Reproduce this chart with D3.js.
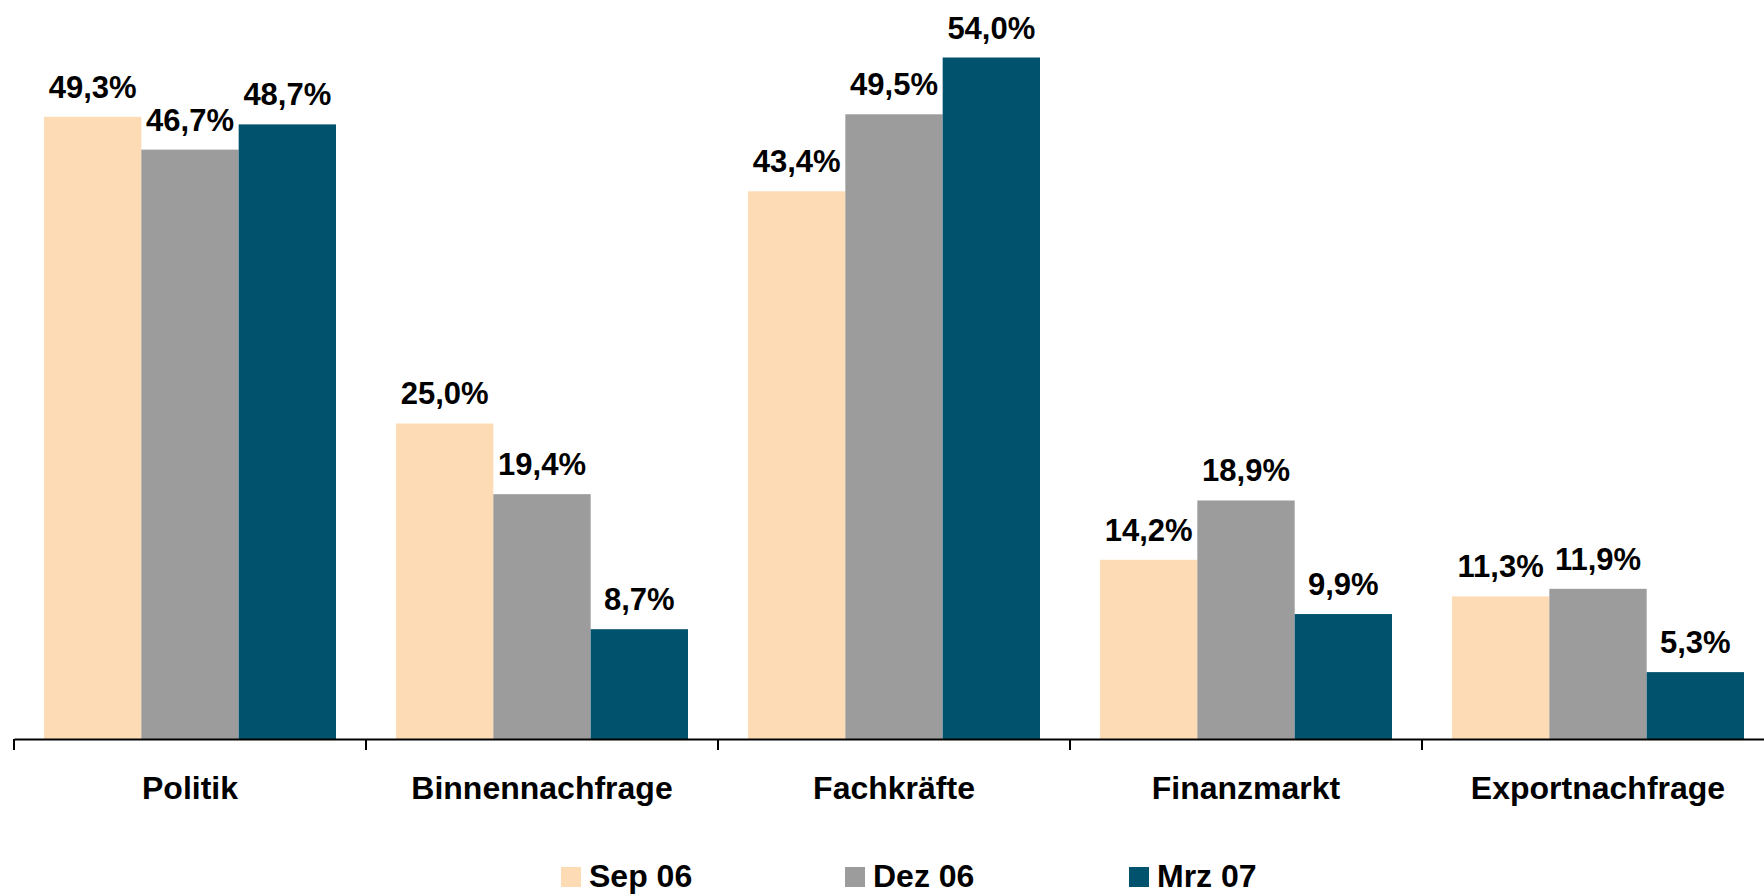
<!DOCTYPE html>
<html>
<head>
<meta charset="utf-8">
<script src="https://cdn.jsdelivr.net/npm/d3@7"></script>
<style>
  body { margin: 0; background: #fff; }
  text { font-family: "Liberation Sans", Arial, sans-serif; font-weight: bold; fill: #000; }
</style>
</head>
<body>
<svg id="chart"></svg>
<script>
const categories = ["Politik", "Binnennachfrage", "Fachkräfte", "Finanzmarkt", "Exportnachfrage"];
const seriesNames = ["Sep 06", "Dez 06", "Mrz 07"];
const sep06 = [49.3, 25.0, 43.4, 14.2, 11.3];
const dez06 = [46.7, 19.4, 49.5, 18.9, 11.9];
const mrz07 = [48.7, 8.7, 54.0, 9.9, 5.3];
const colors = ["#FDDBB4", "#9C9C9C", "#01526D"];

const width = 1764, height = 894;
const baseY = 739;

const svg = d3.select("#chart")
  .attr("width", width)
  .attr("height", height);

const seriesValues = [sep06, dez06, mrz07];

// group scale (band boundaries carry the ticks)
const x0 = d3.scaleBand()
  .domain(categories)
  .range([14, 14 + 5 * 352])
  .padding(0);

const x1 = d3.scaleBand()
  .domain(seriesNames)
  .range([30, 322])
  .padding(0);

const y = d3.scaleLinear()
  .domain([0, 54])
  .range([baseY, 57.5]);

const fmt = v => v.toFixed(1).replace(".", ",") + "%";

const groups = svg.selectAll("g.group")
  .data(categories)
  .enter().append("g")
  .attr("class", "group")
  .attr("transform", d => "translate(" + x0(d) + ",0)");

groups.each(function(cat, i) {
  const g = d3.select(this);
  const data = seriesNames.map((s, k) => ({ s: s, v: seriesValues[k][i], k: k }));

  g.selectAll("rect").data(data)
    .enter().append("rect")
    .attr("x", d => x1(d.s))
    .attr("y", d => y(d.v))
    .attr("width", x1.bandwidth())
    .attr("height", d => baseY - y(d.v))
    .attr("fill", d => colors[d.k]);

  g.selectAll("text.val").data(data)
    .enter().append("text")
    .attr("class", "val")
    .attr("x", d => x1(d.s) + x1.bandwidth() / 2)
    .attr("y", d => y(d.v) - 19)
    .attr("text-anchor", "middle")
    .style("font-size", "31px")
    .text(d => fmt(d.v));
});

// x axis
const axis = svg.append("g")
  .attr("transform", "translate(0," + baseY + ")")
  .call(d3.axisBottom(x0).tickSizeInner(0).tickSizeOuter(0));

axis.select(".domain").attr("stroke", "#000").attr("stroke-width", 2);
axis.selectAll(".tick text")
  .attr("y", 60)
  .attr("dy", null)
  .style("font-size", "32px")
  .style("font-family", "'Liberation Sans', Arial, sans-serif")
  .style("font-weight", "bold")
  .attr("fill", "#000");

// ticks at group boundaries
axis.selectAll("line.sep")
  .data(categories)
  .enter().append("line")
  .attr("class", "sep")
  .attr("x1", d => x0(d))
  .attr("x2", d => x0(d))
  .attr("y1", 0)
  .attr("y2", 11)
  .attr("stroke", "#000")
  .attr("stroke-width", 2);

// legend
const legendX = d3.scalePoint()
  .domain(seriesNames)
  .range([561, 1129]);

const legend = svg.selectAll("g.legend")
  .data(seriesNames)
  .enter().append("g")
  .attr("class", "legend")
  .attr("transform", d => "translate(" + legendX(d) + ",867)");

legend.append("rect")
  .attr("width", 20)
  .attr("height", 20)
  .attr("fill", (d, i) => colors[i]);

legend.append("text")
  .attr("x", 28)
  .attr("y", 20)
  .style("font-size", "32px")
  .text(d => d);
</script>
</body>
</html>
